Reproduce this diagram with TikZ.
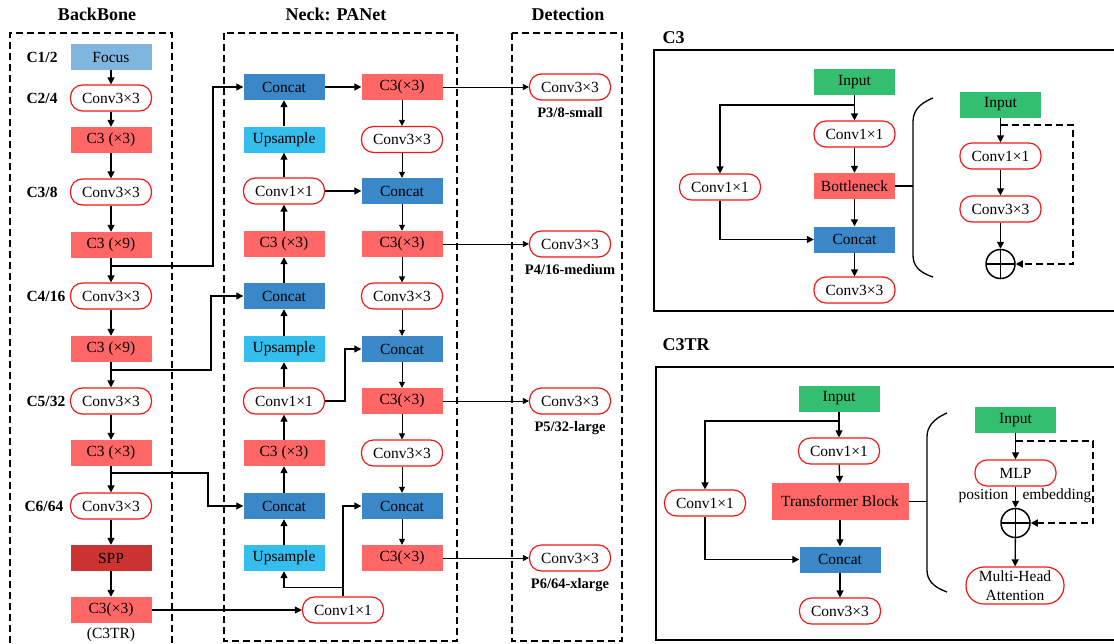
\documentclass[tikz,border=0pt]{standalone}
\usepackage{fontspec}
\setmainfont{Liberation Serif}
\usetikzlibrary{arrows.meta}
\definecolor{cthreered}{HTML}{FF6666}
\definecolor{catblue}{HTML}{3A88C8}
\definecolor{upcyan}{HTML}{33BEEE}
\definecolor{focusblue}{HTML}{7FB6E0}
\definecolor{sppred}{HTML}{CC3333}
\definecolor{inputgreen}{HTML}{33BF6F}
\definecolor{convred}{HTML}{F01818}
\newcommand\blkfont{\fontsize{15.5}{19}\selectfont}
\newcommand\lblfont{\bfseries\fontsize{15.5}{19}\selectfont}
\newcommand\detfont{\bfseries\fontsize{14.5}{18}\selectfont}
\newcommand\ttlfont{\bfseries\fontsize{18}{22}\selectfont}
\tikzset{
	blk/.style={rectangle, minimum width=81pt, minimum height=26pt, inner sep=0pt, font=\blkfont},
	cthree/.style={blk, fill=cthreered},
	cat/.style={blk, fill=catblue},
	ups/.style={blk, fill=upcyan},
	fcs/.style={blk, fill=focusblue},
	spp/.style={blk, fill=sppred},
	inp/.style={blk, fill=inputgreen},
	conv/.style={blk, draw=convred, line width=1.2pt, fill=white, rounded corners=12pt},
	arr/.style={-{Triangle[length=7pt,width=7pt]}, line width=1.3pt},
	tarr/.style={-{Triangle[length=6pt,width=6pt]}, line width=0.8pt},
	wire/.style={line width=1.3pt},
	dbox/.style={dashed, dash pattern=on 7pt off 4pt, line width=1.4pt},
	pbox/.style={line width=1.6pt},
	plus/.style={circle, draw, line width=1.5pt, minimum size=29pt, inner sep=0pt,
		path picture={\draw[line width=1.3pt] (path picture bounding box.north) -- (path picture bounding box.south)
			(path picture bounding box.west) -- (path picture bounding box.east);}}
}
\begin{document}
\begin{tikzpicture}[x=1pt,y=-1pt]
	\useasboundingbox (0,0) rectangle (1114,643);
	\node[font=\ttlfont] (tbb) at (97,14) {BackBone};
	\node[font=\ttlfont] (tneck) at (336,14) {Neck: PANet};
	\node[font=\ttlfont] (tdet) at (568,14) {Detection};
	\draw[dbox] (10,643) -- (10,33) -- (172,33) -- (172,643);
	\draw[dbox] (224,33) rectangle (457,641);
	\draw[dbox] (512,33) rectangle (622,641);
	% backbone
	\foreach \y/\s/\t [count=\i] in {57/fcs/Focus, 98/conv/Conv3×3, 140/cthree/C3 (×3), 192/conv/Conv3×3,
		245/cthree/C3 (×9), 296/conv/Conv3×3, 349/cthree/C3 (×9), 401/conv/Conv3×3, 453/cthree/C3 (×3),
		506/conv/Conv3×3, 558/spp/SPP, 610/cthree/C3(×3)}
		\node[\s] (b\i) at (111,\y) {\t};
	\foreach \i [count=\j] in {2,...,12}
		\draw[arr] (b\j) -- (b\i);
	\node[font=\blkfont] (c3tr) at (111,635) {(C3TR)};
	\node[font=\lblfont, anchor=west] (l1) at (23,57) {C1/2};
	\node[font=\lblfont, anchor=west] (l2) at (23,98) {C2/4};
	\node[font=\lblfont, anchor=west] (l3) at (23,192) {C3/8};
	\node[font=\lblfont, anchor=west] (l4) at (23,296) {C4/16};
	\node[font=\lblfont, anchor=west] (l5) at (23,401) {C5/32};
	\node[font=\lblfont, anchor=west] (l6) at (21,506) {C6/64};
	% neck
	\foreach \y/\s/\t [count=\i] in {87/cat/Concat, 139.5/ups/Upsample, 191/conv/Conv1×1, 244/cthree/C3 (×3),
		296/cat/Concat, 349/ups/Upsample, 401/conv/Conv1×1, 453/cthree/C3 (×3), 506/cat/Concat, 558/ups/Upsample}
		\node[\s] (nl\i) at (284,\y) {\t};
	\foreach \y/\s/\t [count=\i] in {87/cthree/C3(×3), 139.5/conv/Conv3×3, 191/cat/Concat, 244/cthree/C3(×3),
		296/conv/Conv3×3, 349/cat/Concat, 401/cthree/C3(×3), 453/conv/Conv3×3, 506/cat/Concat, 558/cthree/C3(×3)}
		\node[\s] (nr\i) at (402,\y) {\t};
	\node[conv] (nb) at (343,610) {Conv1×1};
	\foreach \i [count=\j] in {2,...,10}
		\draw[arr] (nl\i) -- (nl\j);
	\foreach \i [count=\j] in {2,...,10}
		\draw[tarr] (nr\j) -- (nr\i);
	\coordinate (s1) at (111,266);
	\coordinate (s2) at (111,370);
	\coordinate (s3) at (111,473);
	\draw[arr] (s1) -- (213,266) |- (nl1);
	\draw[arr] (s2) -- (211,370) |- (nl5);
	\draw[arr] (s3) -- (208,473) |- (nl9);
	\draw[arr] (b12) -- (nb);
	\draw[arr] (nl1) -- (nr1);
	\draw[arr] (nl3) -- (nr3);
	\draw[arr] (nl7.east) -- (345,401) |- (nr6);
	\draw[arr] (nb.north) -- ++(0,-9) coordinate (j) -| (nl10);
	\draw[arr] (j) |- (nr9);
	% detection
	\node[conv] (d1) at (570,87) {Conv3×3};
	\node[conv] (d2) at (570,244) {Conv3×3};
	\node[conv] (d3) at (570,401) {Conv3×3};
	\node[conv] (d4) at (570,558) {Conv3×3};
	\node[font=\detfont] (p1) at (570,113) {P3/8-small};
	\node[font=\detfont] (p2) at (570,270) {P4/16-medium};
	\node[font=\detfont] (p3) at (570,428) {P5/32-large};
	\node[font=\detfont] (p4) at (570,585) {P6/64-xlarge};
	\draw[tarr] (nr1) -- (d1);
	\draw[tarr] (nr4) -- (d2);
	\draw[tarr] (nr7) -- (d3);
	\draw[tarr] (nr10) -- (d4);
	% C3
	\node[font=\ttlfont, anchor=west] (tc3) at (659,38) {C3};
	\draw[pbox] (1114,50) -- (654,50) -- (654,311) -- (1114,311);
	\node[inp] (ci) at (854.5,82) {Input};
	\node[conv] (cc1) at (854.5,134) {Conv1×1};
	\node[cthree] (cbn) at (854.5,186) {Bottleneck};
	\node[cat] (ccat) at (854.5,239.5) {Concat};
	\node[conv] (cc3) at (854.5,290) {Conv3×3};
	\node[conv] (ccl) at (720,187) {Conv1×1};
	\coordinate (cj) at (854.5,105);
	\draw[arr] (ci) -- (cc1);
	\draw[arr] (cj) -| (ccl);
	\draw[arr] (ccl) |- (ccat);
	\draw[arr] (cc1) -- (cbn);
	\draw[arr] (cbn) -- (ccat);
	\draw[arr] (ccat) -- (cc3);
	\coordinate (cb) at (913,186);
	\draw[wire] (cbn) -- (cb);
	\draw[wire] (933,98) .. controls (918,104) and (913,112) .. (913,122) -- (913,255) .. controls (913,265) and (918,272) .. (933,277);
	\node[inp] (bi) at (1000.5,104.5) {Input};
	\node[conv] (bc1) at (1000.5,156) {Conv1×1};
	\node[conv] (bc3) at (1000.5,209) {Conv3×3};
	\node[plus] (bo) at (1000.5,264) {};
	\draw[arr] (bi) -- (bc1);
	\draw[arr] (bc1) -- (bc3);
	\draw[arr] (bc3) -- (bo);
	\draw[arr, dash pattern=on 7pt off 4pt] (1000.5,125) -- (1073,125) |- (bo);
	% C3TR
	\node[font=\ttlfont, anchor=west] (tc3tr) at (659,345) {C3TR};
	\draw[pbox] (1114,367) -- (656,367) -- (656,640) -- (1114,640);
	\node[inp] (ti) at (839,398.5) {Input};
	\node[conv] (tc1) at (839,451) {Conv1×1};
	\node[cthree, minimum width=137pt, minimum height=37pt] (ttb) at (840,501.5) {Transformer Block};
	\node[cat] (tcat) at (840,559.5) {Concat};
	\node[conv] (tc3) at (840,611) {Conv3×3};
	\node[conv] (tcl) at (705,503) {Conv1×1};
	\coordinate (tj) at (839,421);
	\draw[arr] (ti) -- (tc1);
	\draw[arr] (tj) -| (tcl);
	\draw[arr] (tcl) |- (tcat);
	\draw[arr] (tc1) -- (ttb);
	\draw[arr] (ttb) -- (tcat);
	\draw[arr] (tcat) -- (tc3);
	\coordinate (tb) at (927,501.5);
	\draw[wire] (ttb) -- (tb);
	\draw[wire] (947,413) .. controls (933,419) and (927,427) .. (927,437) -- (927,570) .. controls (927,580) and (933,587) .. (947,592);
	\node[inp] (ei) at (1015.5,420) {Input};
	\node[conv] (emlp) at (1015.5,473) {MLP};
	\node[font=\blkfont, anchor=east] (epos) at (1012,496) {position};
	\node[font=\blkfont, anchor=west] (eemb) at (1019,496) {embedding};
	\node[plus] (eo) at (1015.5,523) {};
	\node[conv, minimum width=98pt, minimum height=37pt, align=center, rounded corners=18pt] (emha) at (1015,585.5) {Multi-Head\\Attention};
	\draw[arr] (ei) -- (emlp);
	\draw[arr] (emlp) -- (eo);
	\draw[arr] (eo) -- (emha);
	\draw[arr, dash pattern=on 7pt off 4pt] (1015.5,441) -- (1093,441) |- (eo);
\end{tikzpicture}
\end{document}
